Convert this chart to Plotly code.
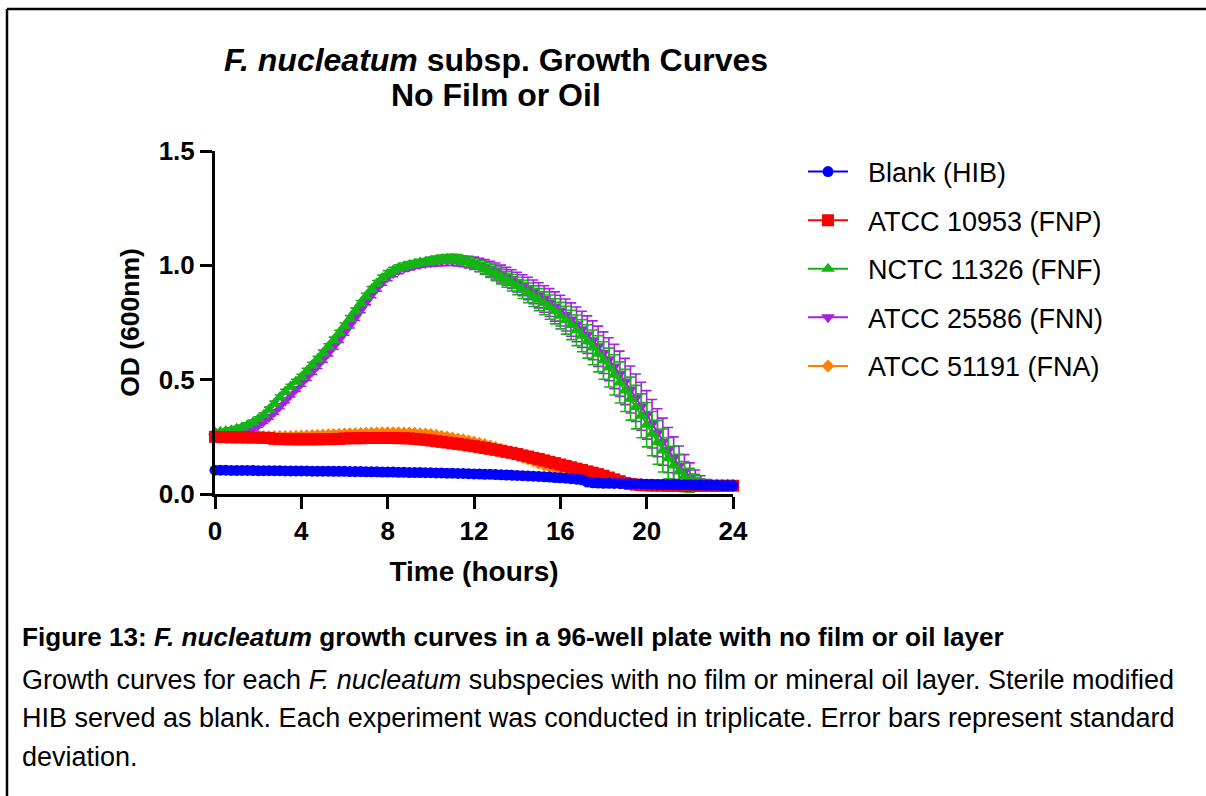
import plotly.graph_objects as go

# ---------------- data ----------------
time_h = [i * 0.25 for i in range(97)]  # 15-min sampling grid, 0..24 h

blank_hib = [0.104,0.104,0.104,0.103,0.103,0.103,0.103,0.103,0.102,0.102,0.102,0.102,0.102,0.101,0.101,0.101,0.101,
             0.101,0.100,0.100,0.100,0.100,0.099,0.099,0.099,0.098,0.098,0.098,0.097,0.097,0.097,0.096,0.096,
             0.096,0.095,0.095,0.094,0.094,0.094,0.093,0.093,0.092,0.092,0.091,0.091,0.090,0.090,0.089,0.088,
             0.087,0.086,0.086,0.085,0.084,0.083,0.082,0.081,0.080,0.079,0.078,0.077,0.075,
             0.074,0.072,0.071,0.069,0.067,0.065,0.062,
             0.052,0.049,0.048,0.047,
             0.047,0.046,0.046,0.045,0.045,0.044,0.044,0.043,0.043,0.042,0.042,0.041,0.041,0.040,0.040,0.040,
             0.039,0.039,0.038,0.038,0.038,0.037,0.037,0.037]

fnp_10953 = [0.250,0.249,0.249,0.248,0.248,0.248,0.247,0.247,0.247,0.246,0.245,
             0.241,0.240,0.240,0.239,0.239,0.239,0.239,0.239,0.239,0.240,0.240,0.240,0.241,
             0.243,0.244,0.244,0.244,0.245,0.245,0.245,0.245,0.245,0.245,0.244,0.244,0.243,
             0.241,0.239,0.237,0.234,0.231,0.228,0.225,0.222,0.219,0.216,0.212,0.209,0.205,0.201,0.197,
             0.193,0.189,0.184,0.180,0.175,0.169,0.164,0.158,0.153,0.147,0.141,0.135,0.129,0.123,0.117,
             0.111,0.105,0.099,0.093,0.087,0.080,0.072,0.064,0.056,0.048,0.044,0.041,0.039,0.038,
             0.037,0.037,0.037,0.036,0.036,0.036,0.036,0.036,0.036,0.036,0.036,0.036,0.036,0.036,0.036,0.036]

fnf_11326 = [0.270,0.272,0.275,0.279,0.285,0.292,0.301,0.313,0.328,0.345,0.370,0.396,0.423,0.448,0.470,0.492,
             0.512,0.538,0.564,0.590,0.617,0.645,0.674,0.704,0.736,0.768,0.801,0.834,0.866,0.895,0.922,0.945,
             0.963,0.977,0.988,0.996,1.002,1.007,1.012,1.016,1.020,1.024,1.027,1.029,1.029,1.027,1.022,1.015,
             1.006,0.996,0.986,0.975,0.963,0.951,0.938,0.924,0.910,0.895,0.880,0.865,0.850,0.834,0.817,0.799,
             0.780,0.760,0.739,0.716,0.692,0.667,0.641,0.613,0.584,0.553,0.521,0.488,0.453,0.417,0.380,0.342,
             0.303,0.264,0.226,0.190,0.156,0.125,0.098,0.076,0.060,0.050,0.045,0.042,0.041,0.040,0.040,0.040,0.040]
fnf_sd = [0.010]*16 + [0.012]*16 + [0.014]*8 + \
         [0.016,0.017,0.018,0.018,0.019,0.020,0.020,0.021,
          0.022,0.024,0.026,0.028,0.030,0.032,0.034,0.036,
          0.038,0.040,0.043,0.045,0.048,0.050,0.053,0.055,
          0.058,0.061,0.064,0.067,0.070,0.073,0.076,0.079,
          0.082,0.085,0.088,0.090,0.092,0.094,0.095,0.096,
          0.097,0.097,0.096,0.094,0.090,0.084,0.076,0.066,
          0.052,0.036,0.022,0.012,0.008,0.006,0.005,0.005,0.005]

fnn_25586 = [0.250,0.252,0.255,0.259,0.264,0.270,0.278,0.289,0.302,0.318,0.337,0.359,0.384,0.409,0.434,0.459,
             0.484,0.510,0.536,0.562,0.589,0.617,0.646,0.676,0.707,0.739,0.772,0.806,0.840,0.871,0.900,0.926,
             0.948,0.965,0.978,0.988,0.995,1.001,1.006,1.010,1.013,1.016,1.018,1.020,1.021,1.020,1.018,1.014,
             1.009,1.002,0.994,0.985,0.975,0.964,0.952,0.940,0.927,0.913,0.899,0.884,0.869,0.853,0.837,0.820,
             0.802,0.783,0.763,0.742,0.720,0.697,0.672,0.646,0.618,0.589,0.558,0.526,0.492,0.457,0.421,0.384,
             0.346,0.307,0.268,0.229,0.192,0.157,0.125,0.098,0.076,0.060,0.050,0.045,0.042,0.041,0.040,0.040,0.040]
fnn_sd = [0.010]*16 + [0.013]*16 + [0.015]*8 + \
         [0.018,0.019,0.020,0.021,0.022,0.023,0.024,0.025,
          0.027,0.029,0.031,0.033,0.035,0.037,0.039,0.041,
          0.043,0.046,0.049,0.052,0.055,0.058,0.061,0.064,
          0.067,0.070,0.073,0.076,0.079,0.082,0.085,0.088,
          0.091,0.094,0.097,0.099,0.101,0.103,0.104,0.105,
          0.106,0.106,0.105,0.103,0.099,0.093,0.085,0.074,
          0.060,0.045,0.030,0.018,0.010,0.007,0.005,0.005,0.005]

fna_51191 = [0.248,0.248,0.248,0.248,0.248,0.248,0.249,0.249,0.250,0.250,0.250,0.251,0.251,0.252,0.252,0.253,
             0.254,0.255,0.256,0.257,0.258,0.259,0.260,0.261,0.262,0.263,0.264,0.265,0.266,0.267,0.267,0.268,
             0.268,0.268,0.268,0.267,0.267,0.266,0.264,0.262,0.260,0.257,0.253,0.249,0.245,0.241,0.237,0.232,
             0.227,0.222,0.216,0.210,0.203,0.196,0.188,0.180,0.171,0.162,0.153,0.144,0.135,0.127,0.119,0.111,
             0.103,0.096,0.089,0.082,0.076,0.071,0.066,0.061,0.057,0.053,0.050,0.047,0.045,0.043,0.041,0.040,
             0.039,0.038,0.038,0.038,0.038,0.038,0.037,0.037,0.037,0.037,0.037,0.037,0.037,0.037,0.037,0.037,0.037]

x_ticks = [0, 4, 8, 12, 16, 20, 24]
y_ticks = [0.0, 0.5, 1.0, 1.5]
y_tick_text = ["0.0", "0.5", "1.0", "1.5"]

FONT = "Liberation Sans, Arial, Helvetica, sans-serif"
NB = "\u00a0\u00a0"

# drawn bottom -> top; legend rank sets legend order
series = [
    ("ATCC 51191 (FNA)", fna_51191, None, "#FF8000", "diamond", 10, 5),
    ("ATCC 25586 (FNN)", fnn_25586, fnn_sd, "#A61EE8", "triangle-down", 12, 4),
    ("NCTC 11326 (FNF)", fnf_11326, fnf_sd, "#14B414", "triangle-up", 12, 3),
    ("ATCC 10953 (FNP)", fnp_10953, None, "#FF0000", "square", 12, 2),
    ("Blank (HIB)", blank_hib, None, "#0000FF", "circle", 11, 1),
]

fig = go.Figure()
for name, y, sd, color, sym, size, rank in series:
    err = None
    if sd is not None:
        err = dict(type="data", array=sd, visible=True, color=color, thickness=1.6, width=5)
    fig.add_trace(go.Scatter(
        x=time_h, y=y, name=NB + name, mode="lines+markers",
        line=dict(color=color, width=2),
        marker=dict(symbol=sym, size=size, color=color, line=dict(width=0)),
        error_y=err, cliponaxis=False,
        legendgroup=f"g{rank}", legendrank=rank,
    ))

L, R, T, B = 215, 733, 151, 494
W, H = 1206, 796


def px(xp):
    return (xp - L) / (R - L)


def py(yp):
    return (B - yp) / (B - T)


fig.update_layout(
    width=W, height=H, autosize=False,
    margin=dict(l=L, r=W - R, t=T, b=H - B, pad=0),
    paper_bgcolor="white", plot_bgcolor="white",
    font=dict(family=FONT, color="black"),
    showlegend=True,
    legend=dict(
        x=px(803), y=py(147.5), xanchor="left", yanchor="top",
        traceorder="grouped", tracegroupgap=10.5,
        font=dict(family=FONT, size=27, color="black"),
        bgcolor="rgba(0,0,0,0)", itemwidth=40,
    ),
    xaxis=dict(
        range=[0, 24], tickvals=x_ticks, ticktext=[str(v) for v in x_ticks],
        showgrid=False, zeroline=False, showline=True, linecolor="black", linewidth=3,
        ticks="outside", ticklen=12, tickwidth=3, tickcolor="black",
        tickfont=dict(family=FONT, size=26, weight="bold"),
        title=dict(text="Time (hours)", font=dict(family=FONT, size=28, weight="bold"), standoff=17),
        fixedrange=True,
    ),
    yaxis=dict(
        range=[0, 1.5], tickvals=y_ticks, ticktext=y_tick_text,
        showgrid=False, zeroline=False, showline=True, linecolor="black", linewidth=3,
        ticks="outside", ticklen=12, tickwidth=3, tickcolor="black",
        tickfont=dict(family=FONT, size=26, weight="bold"),
        title=dict(text="OD (600nm)", font=dict(family=FONT, size=26.5, weight="bold"), standoff=12),
        fixedrange=True,
    ),
)

annotations = [
    dict(text="<b><i>F. nucleatum</i> subsp. Growth Curves</b>", x=px(496), y=py(60),
         font=dict(size=32)),
    dict(text="<b>No Film or Oil</b>", x=px(496), y=py(95), font=dict(size=32)),
]
for a in annotations:
    a.update(xref="paper", yref="paper", xanchor="center", yanchor="middle", showarrow=False)
    a["font"].update(family=FONT, color="black")

caption = [
    ("<b>Figure 13: <i>F. nucleatum</i> growth curves in a 96-well plate with no film or oil layer</b>", 637, 26.1),
    ("Growth curves for each <i>F. nucleatum</i> subspecies with no film or mineral oil layer. Sterile modified", 680, 27),
    ("HIB served as blank. Each experiment was conducted in triplicate. Error bars represent standard", 718, 27),
    ("deviation.", 757, 27),
]
for text, yy, fs in caption:
    annotations.append(dict(text=text, x=px(20), y=py(yy), xref="paper", yref="paper",
                            xanchor="left", yanchor="middle", showarrow=False,
                            font=dict(family=FONT, size=fs, color="black")))
fig.update_layout(annotations=annotations)

# page border (top and left edges)
fig.add_shape(type="line", xref="paper", yref="paper", x0=px(7), x1=px(1206), y0=py(9), y1=py(9),
              line=dict(color="black", width=2.5))
fig.add_shape(type="line", xref="paper", yref="paper", x0=px(7), x1=px(7), y0=py(9), y1=py(796),
              line=dict(color="black", width=2.5))

fig.write_html("out.html")
